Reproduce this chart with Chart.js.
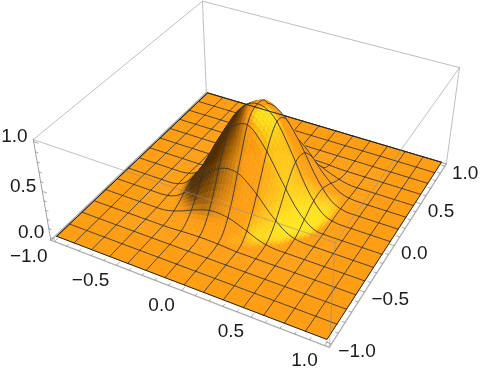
<!DOCTYPE html>
<html><head><meta charset="utf-8">
<style>html,body{margin:0;padding:0;background:#fff}canvas{display:block}</style>
<script src="https://cdn.jsdelivr.net/npm/chart.js@4/dist/chart.umd.min.js"></script>
</head><body><canvas id="c" width="482" height="377"></canvas>
<script>
// Axis values and tick labels
const meshX = [-1,-0.857,-0.714,-0.571,-0.429,-0.286,-0.143,0,0.143,0.286,0.429,0.571,0.714,0.857,1];
const meshY = [-1,-0.857,-0.714,-0.571,-0.429,-0.286,-0.143,0,0.143,0.286,0.429,0.571,0.714,0.857,1];
const xTickValues = [-1,-0.5,0,0.5,1];
const yTickValues = [-1,-0.5,0,0.5,1];
const zTickValues = [0,0.5,1];
const xTickLabels = ["\u22121.0","\u22120.5","0.0","0.5","1.0"];
const yTickLabels = ["\u22121.0","\u22120.5","0.0","0.5","1.0"];
const zTickLabels = ["0.0","0.5","1.0"];
// Surface heights, every 0.125; rows y=-1..1, columns x=-1..1
const heightRows = [
[0,0,0,0,0,0,0,0,0,0,0,0,0,0,0,0,0],
[0,0,0,0,0,0,0,0,0,0,0,0,0,0,0,0,0],
[0,0,0,0,0,0,0,0,0,0,0,0,0,0,0,0,0],
[0,0,0,0,0,0,0,0,0,0,0,0,0,0,0,0,0],
[0,0,0,0,0,.015,.05,.07,.06,.025,0,0,0,0,0,0,0],
[0,0,0,0,.015,.10,.21,.29,.28,.19,.07,.005,0,0,0,0,0],
[0,0,0,0,.05,.21,.44,.60,.62,.47,.25,.07,0,0,0,0,0],
[0,0,0,0,.07,.29,.60,.84,.93,.76,.47,.19,.025,0,0,0,0],
[0,0,0,0,.06,.28,.62,.91,1.0,.91,.62,.28,.06,0,0,0,0],
[0,0,0,0,.025,.19,.47,.76,.93,.84,.60,.29,.07,0,0,0,0],
[0,0,0,0,0,.07,.25,.47,.62,.60,.44,.21,.05,0,0,0,0],
[0,0,0,0,0,.005,.07,.19,.28,.29,.21,.10,.015,0,0,0,0],
[0,0,0,0,0,0,0,.025,.06,.07,.05,.015,0,0,0,0,0],
[0,0,0,0,0,0,0,0,0,0,0,0,0,0,0,0,0],
[0,0,0,0,0,0,0,0,0,0,0,0,0,0,0,0,0],
[0,0,0,0,0,0,0,0,0,0,0,0,0,0,0,0,0],
[0,0,0,0,0,0,0,0,0,0,0,0,0,0,0,0,0]
];

// ---- camera: fitted to where the box and surface corners fall in the picture
const B=1.03, ZMIN=-0.03, ZMAX=1.02;
const camFit=[
[-1,-1,0,57,236],[1,-1,0,328,340],[1,1,0,441,162],[-1,1,0,207,93],
[-B,-B,ZMAX,33,140],[B,-B,ZMAX,334,242],[B,B,ZMAX,460,68],[-B,B,ZMAX,203,1]];
function solveCam(){
  const A=[],b=[];
  camFit.forEach(([X,Y,Z,u,v])=>{
    A.push([X,Y,Z,1,0,0,0,0,-u*X,-u*Y,-u*Z]);b.push(u);
    A.push([0,0,0,0,X,Y,Z,1,-v*X,-v*Y,-v*Z]);b.push(v);});
  const n=11,M=[];
  for(let i=0;i<n;i++){M.push([]);for(let j=0;j<=n;j++){let s=0;
    for(let k=0;k<A.length;k++)s+=A[k][i]*(j<n?A[k][j]:b[k]);M[i].push(s);}}
  for(let i=0;i<n;i++){let p=i;for(let r=i+1;r<n;r++)if(Math.abs(M[r][i])>Math.abs(M[p][i]))p=r;
    [M[i],M[p]]=[M[p],M[i]];
    for(let r=0;r<n;r++)if(r!==i){const f=M[r][i]/M[i][i];for(let c=i;c<=n;c++)M[r][c]-=f*M[i][c];}}
  return M.map((r,i)=>r[n]/r[i]);
}
const P=solveCam();
function proj(X,Y,Z){const w=P[8]*X+P[9]*Y+P[10]*Z+1;
  return {x:(P[0]*X+P[1]*Y+P[2]*Z+P[3])/w,y:(P[4]*X+P[5]*Y+P[6]*Z+P[7])/w};}

// ---- smooth reading between the height values, for drawing only
function cr(a,b,c,d,t){return b+0.5*t*(c-a+t*(2*a-5*b+4*c-d+t*(3*(b-c)+d-a)));}
function h(i,j){i=Math.max(0,Math.min(16,i));j=Math.max(0,Math.min(16,j));return heightRows[j][i];}
function surf(X,Y){
  const fi=(X+1)*8,fj=(Y+1)*8;
  const i=Math.max(0,Math.min(15,Math.floor(fi))),j=Math.max(0,Math.min(15,Math.floor(fj))),s=fi-i,t=fj-j,r=[];
  for(let k=-1;k<=2;k++)r.push(cr(h(i-1,j+k),h(i,j+k),h(i+1,j+k),h(i+2,j+k),s));
  return Math.max(0,cr(r[0],r[1],r[2],r[3],t));
}
function pt(X,Y){return proj(X,Y,surf(X,Y));}

// ---- lighting
const VR=[.879,.476,0],VU=[-.281,.519,.808],VV=[.385,-.71,.59];
const dot=(a,b)=>a[0]*b[0]+a[1]*b[1]+a[2]*b[2];
const mix=(a,b,t)=>a.map((v,i)=>v+(b[i]-v)*t);
const sm=(a,b,x)=>{const t=Math.max(0,Math.min(1,(x-a)/(b-a)));return t*t*(3-2*t);};
const DARK=[85,46,0],BASE=[254,158,20],YEL=[255,232,32];
function shade(X,Y){
  const e=0.03,k=0.8/(2*e);
  let n=[-(surf(X+e,Y)-surf(X-e,Y))*k,-(surf(X,Y+e)-surf(X,Y-e))*k,1];
  const l=Math.hypot(...n);n=n.map(a=>a/l);
  const a=dot(n,VR),b=dot(n,VU),c=dot(n,VV);
  const D=a*.6+b*.35+c*.72, H=a*.38+b*.22+c*.9;
  let col=mix(DARK,BASE,sm(-0.1,0.6,D));
  col=mix(col,BASE,1-sm(0.02,0.2,surf(X,Y)));
  col=mix(col,YEL,0.95*sm(0.84,1.0,H));
  return `rgb(${col.map(Math.round).join(',')})`;
}

// ---- datasets, in drawing order
const layers=[];
function line(points,color,width){layers.push({data:points,showLine:true,borderColor:color,borderWidth:width,pointRadius:0,fill:false,tension:0,borderCapStyle:'round',borderJoinStyle:'round'});}
function quad(points,color){layers.push({data:points.concat([points[0]]),showLine:true,borderColor:color,backgroundColor:color,borderWidth:0.5,pointRadius:0,fill:'shape',tension:0});}

const BOX='rgb(190,190,190)';
// box, far edges
line([proj(-B,B,ZMIN),proj(-B,B,ZMAX)],BOX,1);
line([proj(-B,-B,ZMAX),proj(-B,B,ZMAX),proj(B,B,ZMAX)],BOX,1);
line([proj(-B,-B,ZMIN),proj(-B,B,ZMIN),proj(B,B,ZMIN)],'rgb(170,170,170)',1.4);
line([proj(B,B,ZMIN),proj(B,B,ZMAX)],BOX,1);
line([proj(-B,-B,ZMIN),proj(-B,-B,ZMAX)],'rgb(160,160,160)',1);

// surface, far to near
const MESH='rgb(52,54,50)',NX=6,NY=6,MX=meshX.length-1,MY=meshY.length-1;
for(let j=MY-1;j>=0;j--){
  for(let i=0;i<MX;i++){
    const x0=meshX[i],x1=meshX[i+1],y0=meshY[j],y1=meshY[j+1];
    const bump=x0>=-0.75&&x1<=0.75&&y0>=-0.75&&y1<=0.75;
    if(!bump){
      quad([pt(x0,y0),pt(x1,y0),pt(x1,y1),pt(x0,y1)],shade(x0,y0));
    }else{
      const dx=(x1-x0)/NX,dy=(y1-y0)/NY;
      for(let b=NY-1;b>=0;b--)for(let a=0;a<NX;a++){
        const u=x0+a*dx,v=y0+b*dy;
        quad([pt(u,v),pt(u+dx,v),pt(u+dx,v+dy),pt(u,v+dy)],shade(u+dx/2,v+dy/2));
      }
    }
    const xs=[],ys=[];
    for(let t=0;t<=NX;t++)xs.push(pt(x0+(x1-x0)*t/NX,y1));
    for(let t=0;t<=NY;t++)ys.push(pt(x0,y0+(y1-y0)*t/NY));
    line(xs,MESH,0.9);line(ys,MESH,0.9);
  }
}
// surface outline
line([pt(-1,-1),pt(1,-1),pt(1,1),pt(-1,1),pt(-1,-1)],'rgb(35,35,28)',1);

// box, near edges
line([proj(-B,-B,ZMAX),proj(B,-B,ZMAX),proj(B,B,ZMAX)],'rgba(140,140,140,0.55)',1);
line([proj(B,-B,ZMIN),proj(B,-B,ZMAX)],'rgba(140,140,140,0.55)',1);
line([proj(-B,-B,ZMIN),proj(B,-B,ZMIN),proj(B,B,ZMIN)],'rgb(175,175,175)',1.3);

// tick marks
const TICK='rgb(150,150,150)';
for(let k=0;k<=20;k++){
  const t=-1+k*0.1,major=k%5===0,len=major?0.035:0.02;
  line([proj(t,-B,ZMIN),proj(t,-B+len,ZMIN)],TICK,0.8);
  line([proj(B,t,ZMIN),proj(B-len,t,ZMIN)],TICK,0.8);
}
for(let k=0;k<=10;k++){
  const t=k*0.1,major=k%5===0,len=major?0.035:0.02;
  line([proj(-B,-B,t),proj(-B+len,-B,t)],TICK,0.8);
}

const tickText={id:'tickText',afterDraw(chart){
  const ctx=chart.ctx;ctx.save();ctx.fillStyle='#1a1a1a';
  ctx.font='19px "Liberation Sans", Arial, sans-serif';ctx.textBaseline='middle';
  ctx.textAlign='right';
  xTickValues.forEach((t,i)=>{const p=proj(t,-B,ZMIN);ctx.fillText(xTickLabels[i],p.x-7,p.y+15);});
  zTickValues.forEach((t,i)=>{const p=proj(-B,-B,t);ctx.fillText(zTickLabels[i],p.x-6,p.y-5);});
  ctx.textAlign='left';
  yTickValues.forEach((t,i)=>{const p=proj(B,t,ZMIN);ctx.fillText(yTickLabels[i],p.x+7,p.y+8);});
  ctx.restore();
}};

new Chart(document.getElementById('c'),{
  type:'scatter',
  data:{datasets:layers.slice().reverse()},
  plugins:[tickText],
  options:{responsive:false,animation:false,devicePixelRatio:1,events:[],
    layout:{padding:0},
    plugins:{legend:{display:false},tooltip:{enabled:false}},
    scales:{x:{type:'linear',min:0,max:482,display:false},
            y:{type:'linear',min:0,max:377,reverse:true,display:false}}}
});
</script></body></html>
